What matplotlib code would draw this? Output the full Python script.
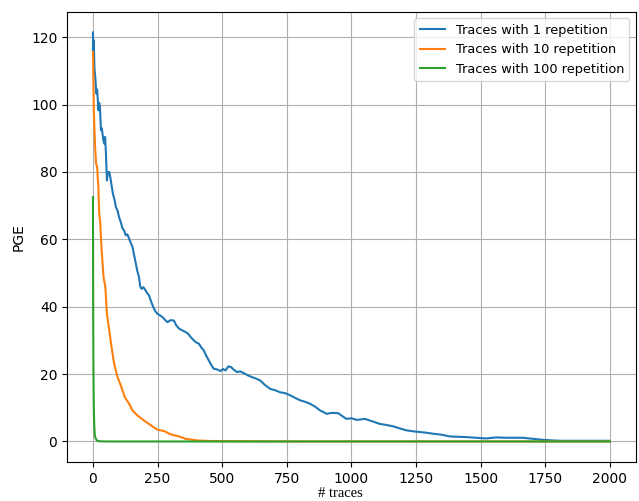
import matplotlib
matplotlib.use("Agg")
import matplotlib.pyplot as plt

# values
traces_1 = [0, 1, 3, 6, 9, 13, 16, 19, 21, 24, 27, 31, 34, 37, 40, 44, 47, 50, 54,
            58, 63, 67, 70, 77, 84, 89, 95, 101, 108, 114, 120, 127, 133, 140, 146,
            153, 160, 166, 172, 178, 183, 188, 195, 204, 210, 217, 225, 236, 242,
            249, 258, 269, 278, 288, 300, 313, 322, 333, 345, 358, 368, 378, 388,
            397, 410, 420, 429, 438, 448, 457, 467, 480, 493, 503, 513, 524, 534,
            546, 558, 570, 583, 600, 615, 630, 647, 665, 686, 705, 724, 745, 763,
            783, 802, 820, 840, 860, 879, 890, 904, 925, 949, 965, 981, 1000, 1020,
            1052, 1080, 1110, 1135, 1161, 1190, 1213, 1240, 1264, 1290, 1315, 1350,
            1380, 1410, 1444, 1480, 1521, 1560, 1600, 1662, 1700, 1739, 1780, 1816,
            1900, 1996]
pge_1 = [121.4, 116.1, 119.1, 110.5, 108.2, 103.3, 104.5, 101.3, 98.3, 100.5, 99.3,
         92.4, 93.0, 91.4, 89.5, 88.4, 90.4, 86.0, 77.5, 79.8, 80.0, 78.5, 77.0,
         73.6, 71.6, 69.5, 68.6, 66.6, 65.0, 63.3, 62.7, 61.2, 61.5, 60.2, 59.0,
         57.7, 55.0, 52.8, 50.5, 48.8, 46.0, 45.3, 45.8, 44.8, 44.0, 43.4, 41.5,
         39.4, 38.6, 37.9, 37.5, 36.9, 36.2, 35.4, 36.0, 35.9, 34.5, 33.5, 33.0,
         32.5, 32.0, 31.0, 30.2, 29.5, 29.0, 27.8, 27.0, 25.5, 24.1, 22.8, 21.6,
         21.4, 20.9, 21.5, 21.1, 22.3, 22.1, 21.2, 20.6, 20.8, 20.3, 19.6, 19.1,
         18.7, 18.1, 16.8, 15.6, 15.2, 14.6, 14.3, 13.7, 12.9, 12.2, 11.8, 11.2,
         10.3, 9.2, 8.8, 8.2, 8.5, 8.4, 7.5, 6.7, 6.9, 6.4, 6.7, 6.0, 5.2, 4.9, 4.5,
         3.8, 3.3, 3.0, 2.8, 2.6, 2.3, 2.0, 1.5, 1.4, 1.3, 1.1, 0.9, 1.2, 1.1, 1.1,
         0.8, 0.5, 0.3, 0.2, 0.2, 0.2]

traces_10 = [0, 1, 3, 5, 8, 12, 16, 21, 24, 28, 33, 37, 41, 48, 54, 63, 72, 82, 95,
             108, 123, 140, 153, 172, 198, 224, 249, 275, 301, 333, 358, 403, 450,
             493, 600, 800, 1200, 1600, 2000]
pge_10 = [115.6, 112.0, 100.0, 94.4, 88.0, 82.5, 81.5, 75.5, 68.0, 65.0, 57.7, 53.0,
          48.8, 45.8, 37.9, 33.0, 28.0, 23.1, 19.1, 16.6, 13.2, 11.2, 9.2, 7.7, 6.2,
          4.8, 3.5, 3.1, 2.1, 1.5, 0.8, 0.3, 0.15, 0.1, 0.05, 0.0, 0.0, 0.0, 0.0]

traces_100 = [0, 1, 2, 3, 4, 5, 7, 10, 15, 25, 50, 2000]
pge_100 = [72.5, 35.0, 20.0, 12.0, 8.0, 5.0, 2.0, 1.0, 0.3, 0.05, 0.0, 0.0]

fig, ax = plt.subplots(figsize=(6.39, 5.01), dpi=100)
fig.subplots_adjust(left=0.105, right=0.995, top=0.976, bottom=0.078)

ax.plot(traces_1, pge_1, label="Traces with 1 repetition")
ax.plot(traces_10, pge_10, label="Traces with 10 repetition")
ax.plot(traces_100, pge_100, label="Traces with 100 repetition")

ax.set_xlabel("# traces", family="Liberation Serif", fontsize=10.5)
ax.xaxis.set_label_coords(0.48, -0.055)
ax.set_ylabel("PGE")
ax.grid(True)
ax.legend(loc="upper right", fontsize=9.3)

fig.savefig("out.png", dpi=100)
